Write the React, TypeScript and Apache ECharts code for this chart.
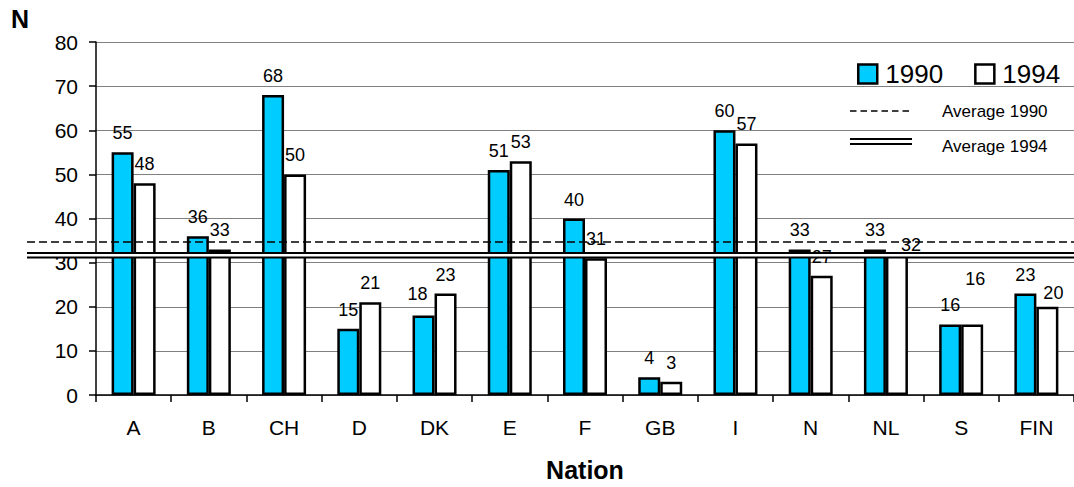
import React, { useEffect, useRef } from "react";
import * as echarts from "echarts";

const NATIONS = ["A", "B", "CH", "D", "DK", "E", "F", "GB", "I", "N", "NL", "S", "FIN"];
const VALUES_1990 = [55, 36, 68, 15, 18, 51, 40, 4, 60, 33, 33, 16, 23];
const VALUES_1994 = [48, 33, 50, 21, 23, 53, 31, 3, 57, 27, 32, 16, 20];
const AVG_1990 = 34.8;
const AVG_1994 = 31.8;
const Y_MIN = 0;
const Y_MAX = 80;
const Y_INTERVAL = 10;

// label nudges (style only), keyed by category index
const LABEL_OFFSET_1990: Record<number, [number, number]> = { 4: [-6, -3] };
const LABEL_OFFSET_1994: Record<number, [number, number]> = { 10: [14, 10], 11: [3, -26], 12: [6, 5] };

const FONT = "'Liberation Sans', Arial, sans-serif";

function buildData(values: number[], offsets: Record<number, [number, number]>) {
  return values.map((v, i) =>
    offsets[i] ? { value: v, label: { offset: offsets[i] } } : { value: v }
  );
}

export default function App() {
  const ref = useRef<HTMLDivElement>(null);

  useEffect(() => {
    if (!ref.current) return;
    const chart = echarts.init(ref.current, undefined, { renderer: "svg" });
    const labelStyle = {
      show: true,
      position: "top" as const,
      distance: 10,
      fontSize: 18,
      color: "#000",
      fontFamily: FONT,
    };
    chart.setOption({
      animation: false,
      backgroundColor: "#fff",
      textStyle: { fontFamily: FONT },
      legend: {
        data: ["1990", "1994"],
        left: 852,
        top: 56,
        itemWidth: 19,
        itemHeight: 19,
        itemGap: 31,
        icon: "rect",
        itemStyle: { borderWidth: 2.5, borderColor: "#000" },
        textStyle: { fontSize: 26, color: "#000", fontFamily: FONT, padding: [0, 0, 0, 3] },
      },
      grid: [
        { left: 96, right: 0, top: 42, height: 354 },
        { left: 27, right: 0, top: 42, height: 354 },
      ],
      xAxis: [
        {
          type: "category",
          gridIndex: 0,
          data: NATIONS,
          axisLine: { lineStyle: { color: "#000", width: 1.5 } },
          axisTick: { show: true, length: 7, alignWithLabel: false, lineStyle: { color: "#000", width: 1.5 } },
          axisLabel: { fontSize: 21, color: "#000", margin: 22, fontFamily: FONT },
          name: "Nation",
          nameLocation: "middle",
          nameGap: 62,
          nameTextStyle: { fontSize: 25, fontWeight: "bold", color: "#000", fontFamily: FONT },
        },
        { type: "value", gridIndex: 1, min: 0, max: 1, show: false },
      ],
      yAxis: [
        {
          type: "value",
          gridIndex: 0,
          min: Y_MIN,
          max: Y_MAX,
          interval: Y_INTERVAL,
          axisLine: { show: true, lineStyle: { color: "#000", width: 1.5 } },
          axisTick: { show: true, length: 7, lineStyle: { color: "#000", width: 1.5 } },
          axisLabel: { fontSize: 21, color: "#000", margin: 18, fontFamily: FONT },
          splitLine: { show: true, lineStyle: { color: "#808080", width: 1 } },
        },
        { type: "value", gridIndex: 1, min: Y_MIN, max: Y_MAX, show: false },
      ],
      series: [
        {
          name: "1990",
          type: "bar",
          xAxisIndex: 0,
          yAxisIndex: 0,
          barWidth: 22,
          barGap: "0%",
          data: buildData(VALUES_1990, LABEL_OFFSET_1990),
          itemStyle: { color: "#00CCFF", borderColor: "#000", borderWidth: 2.5 },
          label: labelStyle,
        },
        {
          name: "1994",
          type: "bar",
          xAxisIndex: 0,
          yAxisIndex: 0,
          barWidth: 22,
          barGap: "0%",
          data: buildData(VALUES_1994, LABEL_OFFSET_1994),
          itemStyle: { color: "#FFFFFF", borderColor: "#000", borderWidth: 2.5 },
          label: labelStyle,
        },
        {
          name: "Average 1990",
          type: "line",
          xAxisIndex: 1,
          yAxisIndex: 1,
          silent: true,
          symbol: "none",
          z: 5,
          data: [[0, AVG_1990], [1, AVG_1990]],
          lineStyle: { color: "#000", width: 1.5, type: [8, 4] },
        },
        {
          name: "Average 1994",
          type: "line",
          xAxisIndex: 1,
          yAxisIndex: 1,
          silent: true,
          symbol: "none",
          z: 5,
          data: [[0, AVG_1994], [1, AVG_1994]],
          lineStyle: { color: "#000", width: 6.5 },
        },
        {
          name: "Average 1994 gap",
          type: "line",
          xAxisIndex: 1,
          yAxisIndex: 1,
          silent: true,
          symbol: "none",
          z: 6,
          data: [[0, AVG_1994], [1, AVG_1994]],
          lineStyle: { color: "#fff", width: 2.4 },
        },
      ],
      graphic: [
        {
          type: "text",
          left: 11,
          top: 6,
          style: { text: "N", fontSize: 25, fontWeight: "bold", fill: "#000", fontFamily: FONT },
        },
        {
          type: "line",
          shape: { x1: 850, y1: 111, x2: 912, y2: 111 },
          style: { stroke: "#000", lineWidth: 1.5, lineDash: [6.5, 4] },
        },
        {
          type: "text",
          x: 942,
          y: 111,
          style: { text: "Average 1990", fontSize: 17, fill: "#000", fontFamily: FONT, verticalAlign: "middle" },
        },
        {
          type: "line",
          shape: { x1: 850, y1: 139, x2: 912, y2: 139 },
          style: { stroke: "#000", lineWidth: 2 },
        },
        {
          type: "line",
          shape: { x1: 850, y1: 144, x2: 912, y2: 144 },
          style: { stroke: "#000", lineWidth: 2 },
        },
        {
          type: "text",
          x: 942,
          y: 146,
          style: { text: "Average 1994", fontSize: 17, fill: "#000", fontFamily: FONT, verticalAlign: "middle" },
        },
      ],
    });
    return () => chart.dispose();
  }, []);

  return (
    <div
      ref={ref}
      style={{ position: "absolute", left: 0, top: 0, width: 1074, height: 487 }}
    />
  );
}
